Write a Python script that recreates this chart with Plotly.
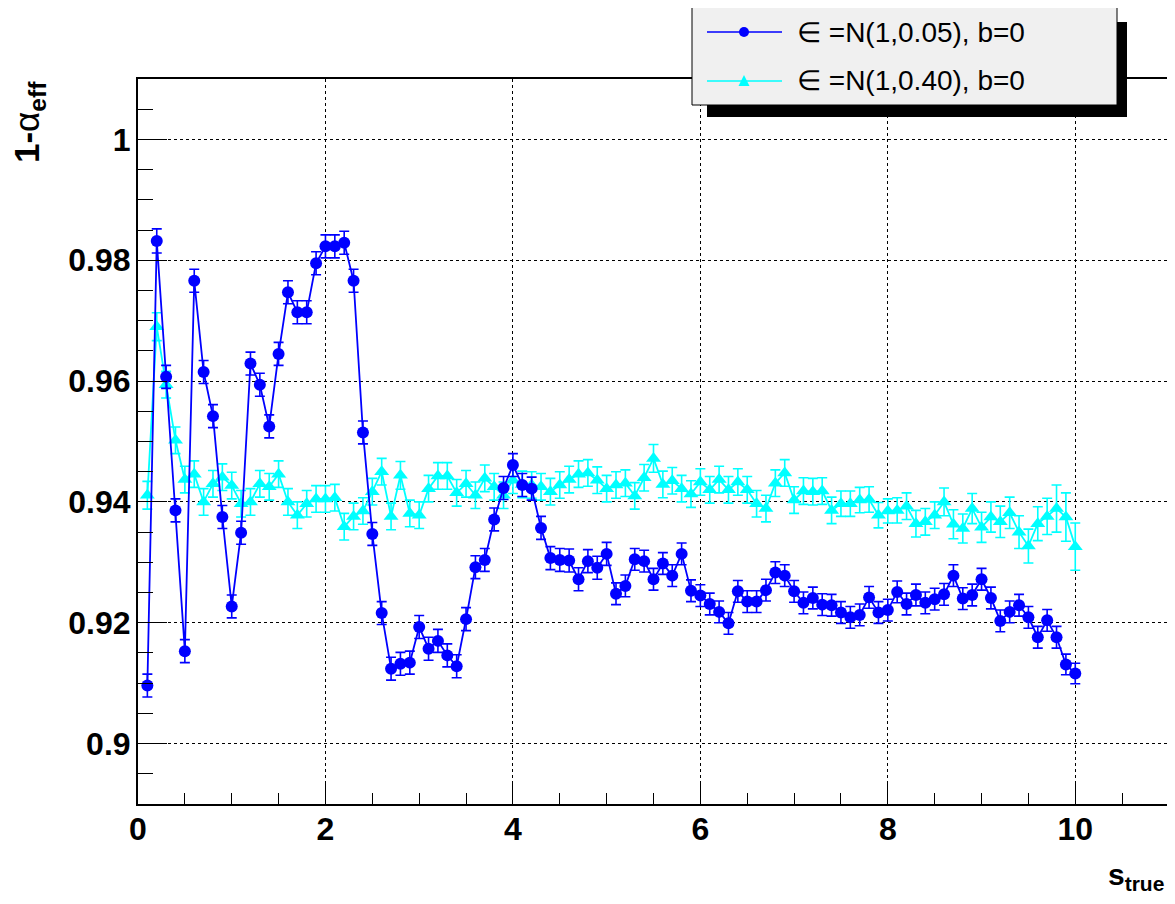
import plotly.graph_objects as go

# ---- data -------------------------------------------------------------
s_true = [0.1, 0.2, 0.3, 0.4, 0.5, 0.6, 0.7, 0.8, 0.9, 1.0,
          1.1, 1.2, 1.3, 1.4, 1.5, 1.6, 1.7, 1.8, 1.9, 2.0,
          2.1, 2.2, 2.3, 2.4, 2.5, 2.6, 2.7, 2.8, 2.9, 3.0,
          3.1, 3.2, 3.3, 3.4, 3.5, 3.6, 3.7, 3.8, 3.9, 4.0,
          4.1, 4.2, 4.3, 4.4, 4.5, 4.6, 4.7, 4.8, 4.9, 5.0,
          5.1, 5.2, 5.3, 5.4, 5.5, 5.6, 5.7, 5.8, 5.9, 6.0,
          6.1, 6.2, 6.3, 6.4, 6.5, 6.6, 6.7, 6.8, 6.9, 7.0,
          7.1, 7.2, 7.3, 7.4, 7.5, 7.6, 7.7, 7.8, 7.9, 8.0,
          8.1, 8.2, 8.3, 8.4, 8.5, 8.6, 8.7, 8.8, 8.9, 9.0,
          9.1, 9.2, 9.3, 9.4, 9.5, 9.6, 9.7, 9.8, 9.9, 10.0]

cov_005 = [0.9096, 0.9832, 0.9607, 0.9386, 0.9153, 0.9766, 0.9615, 0.9542, 0.9375, 0.9227,
           0.9349, 0.9629, 0.9594, 0.9525, 0.9645, 0.9747, 0.9714, 0.9714, 0.9795, 0.9823,
           0.9823, 0.9829, 0.9766, 0.9515, 0.9347, 0.9216, 0.9124, 0.9132, 0.9134, 0.9193,
           0.9157, 0.9170, 0.9146, 0.9128, 0.9206, 0.9292, 0.9304, 0.9371, 0.9423, 0.9461,
           0.9428, 0.9422, 0.9357, 0.9307, 0.9304, 0.9303, 0.9272, 0.9302, 0.9291, 0.9314,
           0.9248, 0.9261, 0.9305, 0.9302, 0.9272, 0.9298, 0.9278, 0.9314, 0.9253, 0.9245,
           0.9231, 0.9218, 0.9199, 0.9252, 0.9235, 0.9235, 0.9254, 0.9283, 0.9278, 0.9252,
           0.9233, 0.9241, 0.9230, 0.9229, 0.9217, 0.9209, 0.9213, 0.9242, 0.9217, 0.9221,
           0.9251, 0.9231, 0.9246, 0.9233, 0.9239, 0.9247, 0.9278, 0.9240, 0.9246, 0.9272,
           0.9241, 0.9203, 0.9218, 0.9229, 0.9209, 0.9176, 0.9204, 0.9176, 0.9131, 0.9116]

err_005 = [0.0019, 0.0020, 0.0019, 0.0019, 0.0019, 0.0019, 0.0019, 0.0019, 0.0019, 0.0019,
           0.0019, 0.0019, 0.0019, 0.0019, 0.0019, 0.0019, 0.0019, 0.0019, 0.0019, 0.0019,
           0.0019, 0.0019, 0.0019, 0.0019, 0.0019, 0.0019, 0.0019, 0.0019, 0.0019, 0.0019,
           0.0019, 0.0019, 0.0019, 0.0019, 0.0019, 0.0019, 0.0019, 0.0019, 0.0019, 0.0019,
           0.0019, 0.0019, 0.0019, 0.0019, 0.0019, 0.0019, 0.0019, 0.0019, 0.0019, 0.0019,
           0.0018, 0.0018, 0.0018, 0.0018, 0.0018, 0.0018, 0.0018, 0.0018, 0.0018, 0.0018,
           0.0018, 0.0018, 0.0018, 0.0018, 0.0018, 0.0018, 0.0018, 0.0018, 0.0018, 0.0018,
           0.0018, 0.0018, 0.0018, 0.0018, 0.0018, 0.0018, 0.0018, 0.0018, 0.0018, 0.0018,
           0.0018, 0.0018, 0.0018, 0.0018, 0.0018, 0.0018, 0.0018, 0.0018, 0.0018, 0.0018,
           0.0018, 0.0018, 0.0018, 0.0018, 0.0018, 0.0018, 0.0018, 0.0018, 0.0017, 0.0017]

cov_040 = [0.9411, 0.9690, 0.9594, 0.9502, 0.9437, 0.9446, 0.9400, 0.9430, 0.9441, 0.9427,
           0.9397, 0.9400, 0.9430, 0.9425, 0.9446, 0.9400, 0.9378, 0.9397, 0.9405, 0.9405,
           0.9407, 0.9359, 0.9376, 0.9385, 0.9417, 0.9450, 0.9376, 0.9444, 0.9381, 0.9378,
           0.9422, 0.9443, 0.9443, 0.9415, 0.9430, 0.9411, 0.9439, 0.9425, 0.9411, 0.9436,
           0.9429, 0.9428, 0.9425, 0.9417, 0.9428, 0.9437, 0.9446, 0.9448, 0.9436, 0.9422,
           0.9428, 0.9431, 0.9410, 0.9440, 0.9472, 0.9429, 0.9435, 0.9422, 0.9413, 0.9433,
           0.9420, 0.9437, 0.9420, 0.9433, 0.9420, 0.9397, 0.9389, 0.9431, 0.9448, 0.9403,
           0.9418, 0.9417, 0.9418, 0.9386, 0.9397, 0.9397, 0.9403, 0.9404, 0.9378, 0.9385,
           0.9386, 0.9393, 0.9364, 0.9367, 0.9378, 0.9400, 0.9363, 0.9356, 0.9389, 0.9358,
           0.9375, 0.9367, 0.9382, 0.9350, 0.9327, 0.9364, 0.9376, 0.9389, 0.9375, 0.9326]

err_040 = [0.0023, 0.0023, 0.0022, 0.0022, 0.0022, 0.0022, 0.0022, 0.0022, 0.0022, 0.0022,
           0.0022, 0.0022, 0.0022, 0.0022, 0.0022, 0.0022, 0.0022, 0.0022, 0.0022, 0.0022,
           0.0022, 0.0022, 0.0022, 0.0022, 0.0022, 0.0022, 0.0022, 0.0023, 0.0022, 0.0022,
           0.0022, 0.0022, 0.0022, 0.0022, 0.0022, 0.0022, 0.0022, 0.0022, 0.0022, 0.0022,
           0.0022, 0.0022, 0.0022, 0.0022, 0.0022, 0.0022, 0.0022, 0.0022, 0.0022, 0.0022,
           0.0022, 0.0022, 0.0022, 0.0022, 0.0023, 0.0022, 0.0022, 0.0022, 0.0022, 0.0022,
           0.0022, 0.0022, 0.0022, 0.0022, 0.0022, 0.0022, 0.0022, 0.0022, 0.0022, 0.0022,
           0.0022, 0.0022, 0.0022, 0.0022, 0.0021, 0.0021, 0.0021, 0.0021, 0.0021, 0.0020,
           0.0021, 0.0022, 0.0022, 0.0022, 0.0022, 0.0023, 0.0024, 0.0024, 0.0025, 0.0025,
           0.0025, 0.0026, 0.0026, 0.0027, 0.0028, 0.0028, 0.0030, 0.0039, 0.0040, 0.0039]

label_005 = "\u2208 =N(1,0.05), b=0"
label_040 = "\u2208 =N(1,0.40), b=0"

x_range = [0, 11]
y_range = [0.89, 1.01]

BLUE = "#0000ff"
CYAN = "#00ffff"
FONT = "Liberation Sans, Arial, Helvetica, sans-serif"

# the page body adds an 8 px margin around the figure
OFF = 8

# ---- figure -----------------------------------------------------------
fig = go.Figure()

fig.add_trace(go.Scatter(
    x=s_true, y=cov_040, mode="lines+markers", name=label_040,
    line=dict(color=CYAN, width=1.8),
    marker=dict(symbol="triangle-up", size=13, color=CYAN),
    error_y=dict(type="data", array=err_040, color=CYAN, thickness=1.6, width=5),
    showlegend=False,
))
fig.add_trace(go.Scatter(
    x=s_true, y=cov_005, mode="lines+markers", name=label_005,
    line=dict(color=BLUE, width=1.8),
    marker=dict(symbol="circle", size=12, color=BLUE),
    error_y=dict(type="data", array=err_005, color=BLUE, thickness=1.6, width=5),
    showlegend=False,
))

# plot-area geometry in page pixels (1175 x 904 window)
L, R, T, B = 138, 1169, 79, 804
W, H = R - L, B - T


def px(xp):
    return (xp - L) / W


def py(yp):
    return (B - yp) / H


shapes = []
annotations = []

# legend: shadow, box, symbols, text
shapes.append(dict(type="rect", xref="paper", yref="paper",
                   x0=px(707), x1=px(1127), y0=py(117), y1=py(22),
                   fillcolor="black", line=dict(width=0), layer="above"))
shapes.append(dict(type="rect", xref="paper", yref="paper",
                   x0=px(692), x1=px(1117), y0=py(105), y1=py(6),
                   fillcolor="#f0f0f0", line=dict(color="black", width=1), layer="above"))

entries = [(label_005, BLUE, "circle", 32), (label_040, CYAN, "triangle", 81)]
for text, col, sym, yc in entries:
    shapes.append(dict(type="line", xref="paper", yref="paper",
                       x0=px(707), x1=px(782), y0=py(yc), y1=py(yc),
                       line=dict(color=col, width=1.6), layer="above"))
    if sym == "circle":
        shapes.append(dict(type="circle", xref="paper", yref="paper",
                           x0=px(739), x1=px(749), y0=py(yc + 5), y1=py(yc - 5),
                           fillcolor=col, line=dict(color=col, width=0), layer="above"))
    else:
        path = "M {a},{b} L {c},{d} L {e},{f} Z".format(
            a=px(738.5), b=py(yc + 5), c=px(749.5), d=py(yc + 5), e=px(744), f=py(yc - 6))
        shapes.append(dict(type="path", xref="paper", yref="paper", path=path,
                           fillcolor=col, line=dict(color=col, width=0), layer="above"))
    annotations.append(dict(xref="paper", yref="paper", x=px(795), y=py(yc),
                            xanchor="left", yanchor="middle", showarrow=False,
                            text=text, font=dict(family=FONT, size=28, color="black")))

# axis titles
annotations.append(dict(xref="paper", yref="paper", x=px(1166), y=py(876),
                        xanchor="right", yanchor="middle", showarrow=False,
                        text="<b>s<sub>true</sub></b>",
                        font=dict(family=FONT, size=30, color="black")))
annotations.append(dict(xref="paper", yref="paper", x=px(29), y=py(122),
                        xanchor="center", yanchor="middle", showarrow=False,
                        textangle=-90,
                        text="<b>1-</b>\u03b1<b><sub>eff</sub></b>",
                        font=dict(family=FONT, size=35, color="black")))

axis_common = dict(
    showline=True, linecolor="black", linewidth=2, mirror=True,
    ticks="inside", tickcolor="black", tickwidth=1.3,
    showgrid=True, gridcolor="black", gridwidth=1.4, griddash="dot",
    zeroline=False,
    tickfont=dict(family=FONT, size=32, color="black", weight="bold"),
)

fig.update_xaxes(range=x_range, tickmode="linear", tick0=0, dtick=2, ticklen=22,
                 ticklabelstandoff=-4,
                 minor=dict(dtick=0.5, tick0=0, ticks="inside", ticklen=11,
                            tickcolor="black", tickwidth=1.3, showgrid=False),
                 **axis_common)
fig.update_yaxes(range=y_range, tickmode="array",
                 tickvals=[0.9, 0.92, 0.94, 0.96, 0.98, 1.0],
                 ticktext=["0.9", "0.92", "0.94", "0.96", "0.98", "1"],
                 ticklen=29, ticklabelstandoff=-1,
                 minor=dict(dtick=0.005, tick0=0.89, ticks="inside", ticklen=15,
                            tickcolor="black", tickwidth=1.3, showgrid=False),
                 **axis_common)

FIG_W, FIG_H = 1175 - OFF, 904 - OFF
fig.update_layout(
    width=FIG_W, height=FIG_H,
    margin=dict(l=L - OFF, r=FIG_W - (R - OFF), t=T - OFF, b=FIG_H - (B - OFF),
                autoexpand=False),
    paper_bgcolor="white", plot_bgcolor="white",
    shapes=shapes, annotations=annotations,
    showlegend=False,
    font=dict(family=FONT, color="black"),
)

fig.write_html("out.html")
